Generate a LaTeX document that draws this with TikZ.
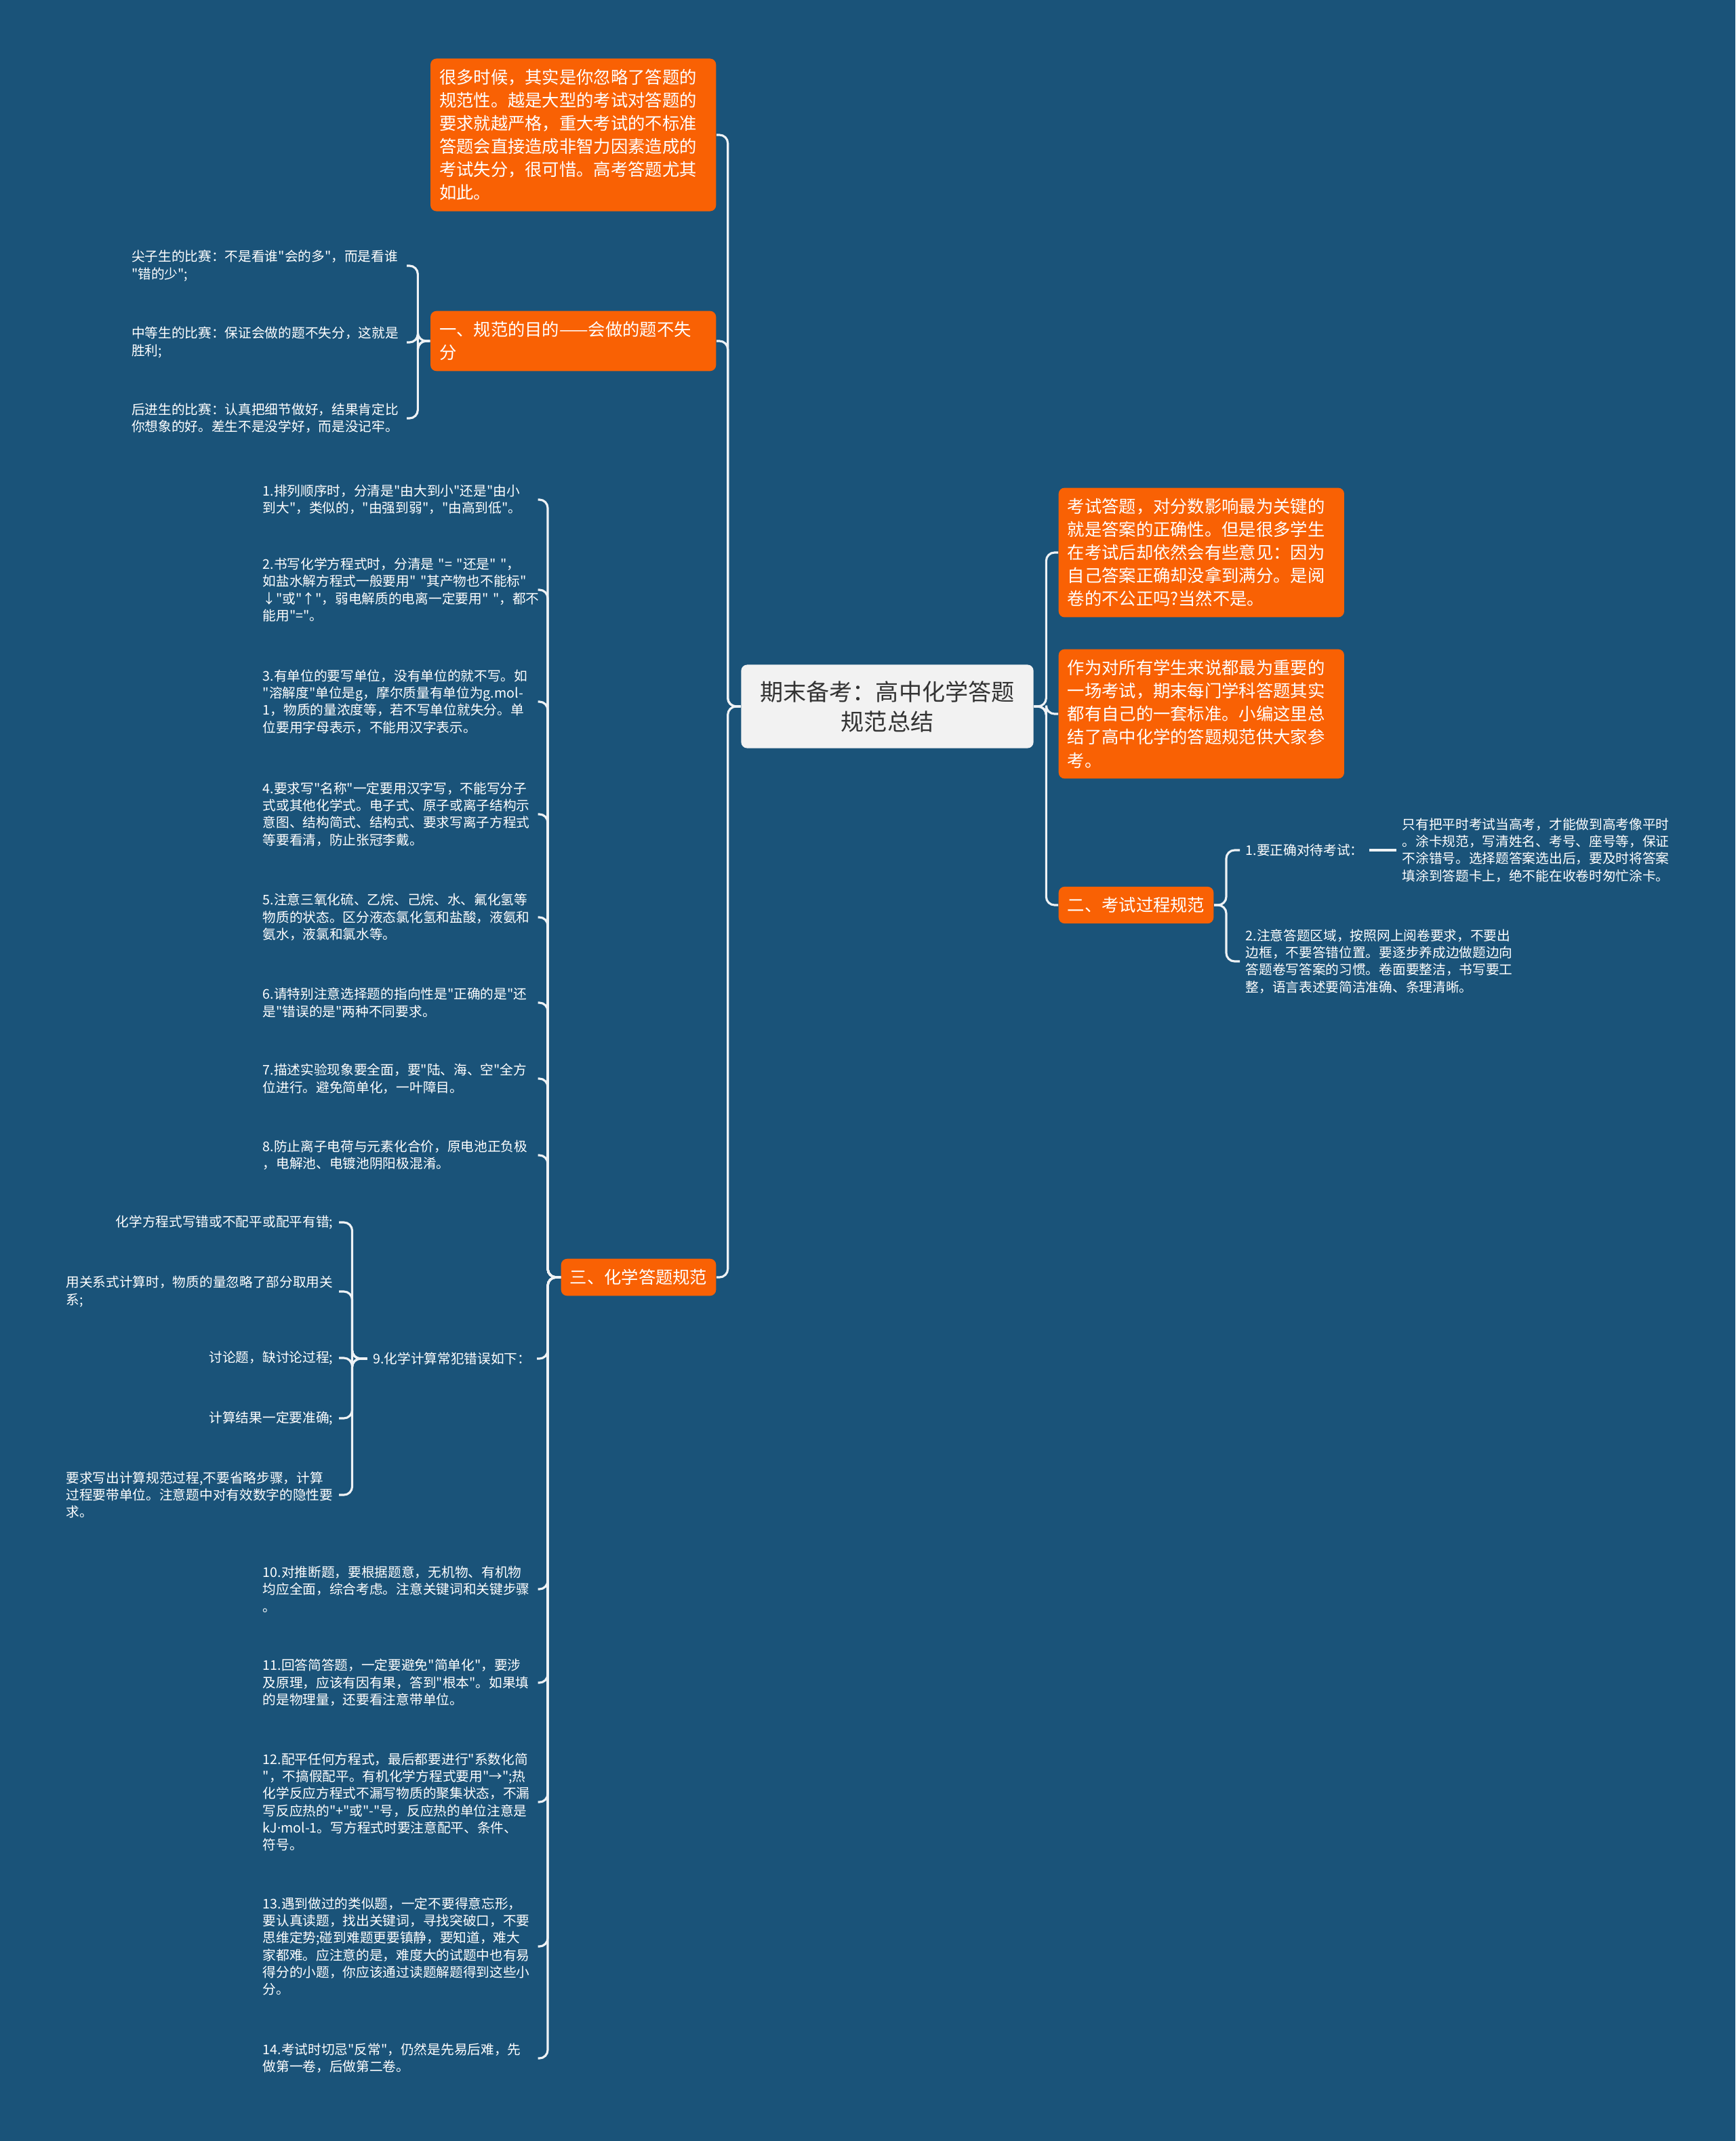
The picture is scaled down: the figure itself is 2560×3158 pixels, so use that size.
\documentclass[tikz,border=0pt]{standalone}
\usepackage{fontspec}
\newfontfamily\cjkfont{Noto Sans CJK SC}
\newfontfamily\latinfont{Noto Sans}
\definecolor{bgblue}{HTML}{1A5379}
\definecolor{boxorange}{HTML}{F96104}
\definecolor{rootgray}{HTML}{F2F2F2}
\definecolor{linkwhite}{HTML}{EEF2F5}
\hyphenpenalty=10000
\exhyphenpenalty=10000
\newcommand\pw[1]{{\addfontfeature{CharacterWidth=Proportional}#1}}
\begin{document}
\begin{tikzpicture}[x=0.01cm,y=-0.01cm,
  link/.style={draw=linkwhite,line width=0.9pt,rounded corners=3.5pt},
  leaf/.style={text=white,font=\cjkfont\fontsize{5.6}{7.2}\selectfont,align=left,inner xsep=0.08cm,inner ysep=0.04cm},
  item/.style={leaf,text width=3.97cm},
  topic/.style={fill=boxorange,text=white,rounded corners=2.5pt,font=\cjkfont\fontsize{7.2}{9.7}\selectfont,align=left,inner xsep=0.13cm,inner ysep=0.155cm},
  wide/.style={topic,text width=3.95cm},
  root/.style={fill=rootgray,text=black!80,rounded corners=2.5pt,font=\cjkfont\fontsize{9.7}{12.5}\selectfont,align=center,minimum width=4.31cm,minimum height=1.23cm}]
  \fill[bgblue] (0,0) rectangle (2560,3158);

  \node[root] (root) at (1309,1042) {期末备考：高中化学答题\\规范总结};

  \node[wide,anchor=east] (bA) at (1057,199) {很多时候，其实是你忽略了答题的\\规范性。越是大型的考试对答题的\\要求就越严格，重大考试的不标准\\答题会直接造成非智力因素造成的\\考试失分，很可惜。高考答题尤其\\如此。};
  \node[wide,anchor=east] (bB) at (1057,503) {一、规范的目的——会做的题不失\\分};
  \node[topic,anchor=east] (b3) at (1057,1884) {三、化学答题规范};
  \node[wide,anchor=west] (bC) at (1561,815) {考试答题，对分数影响最为关键的\\就是答案的正确性。但是很多学生\\在考试后却依然会有些意见：因为\\自己答案正确却没拿到满分。是阅\\卷的不公正吗?当然不是。};
  \node[wide,anchor=west] (bD) at (1561,1053) {作为对所有学生来说都最为重要的\\一场考试，期末每门学科答题其实\\都有自己的一套标准。小编这里总\\结了高中化学的答题规范供大家参\\考。};
  \node[topic,anchor=west] (bE) at (1561,1335) {二、考试过程规范};

  \node[item,anchor=east] (l1) at (600,392) {尖子生的比赛：不是看谁"会的多"，而是看谁\\"错的少";};
  \node[item,anchor=east] (l2) at (600,505) {中等生的比赛：保证会做的题不失分，这就是\\胜利;};
  \node[item,anchor=east] (l3) at (600,617) {后进生的比赛：认真把细节做好，结果肯定比\\你想象的好。差生不是没学好，而是没记牢。};

  \node[item,anchor=west] (i1) at (379,737) {1.排列顺序时，分清是"由大到小"还是"由小\\到大"，类似的，"由强到弱"，"由高到低"。};
  \node[item,anchor=west] (i2) at (379,870) {2.书写化学方程式时，分清是~"=~"还是"~"，\\如盐水解方程式一般要用"~"其产物也不能标"\\\pw{↓}"或"\pw{↑}"，弱电解质的电离一定要用"~"，都不\\能用"="。};
  \node[item,anchor=west] (i3) at (379,1035) {3.有单位的要写单位，没有单位的就不写。如\\"溶解度"单位是g，摩尔质量有单位为g.mol-\\1，物质的量浓度等，若不写单位就失分。单\\位要用字母表示，不能用汉字表示。};
  \node[item,anchor=west] (i4) at (379,1201) {4.要求写"名称"一定要用汉字写，不能写分子\\式或其他化学式。电子式、原子或离子结构示\\意图、结构简式、结构式、要求写离子方程式\\等要看清，防止张冠李戴。};
  \node[item,anchor=west] (i5) at (379,1353) {5.注意三氧化硫、乙烷、己烷、水、氟化氢等\\物质的状态。区分液态氯化氢和盐酸，液氨和\\氨水，液氯和氯水等。};
  \node[item,anchor=west] (i6) at (379,1479) {6.请特别注意选择题的指向性是"正确的是"还\\是"错误的是"两种不同要求。};
  \node[item,anchor=west] (i7) at (379,1591) {7.描述实验现象要全面，要"陆、海、空"全方\\位进行。避免简单化，一叶障目。};
  \node[item,anchor=west] (i8) at (379,1704) {8.防止离子电荷与元素化合价，原电池正负极\\，电解池、电镀池阴阳极混淆。};
  \node[leaf,anchor=east] (i9) at (792,2004) {9.化学计算常犯错误如下：};
  \node[item,anchor=west] (i10) at (379,2344) {10.对推断题，要根据题意，无机物、有机物\\均应全面，综合考虑。注意关键词和关键步骤\\。};
  \node[item,anchor=west] (i11) at (379,2482) {11.回答简答题，一定要避免"简单化"，要涉\\及原理，应该有因有果，答到"根本"。如果填\\的是物理量，还要看注意带单位。};
  \node[item,anchor=west] (i12) at (379,2658) {12.配平任何方程式，最后都要进行"系数化简\\"，不搞假配平。有机化学方程式要用"\pw{→}";热\\化学反应方程式不漏写物质的聚集状态，不漏\\写反应热的"+"或"-"号，反应热的单位注意是\\kJ{\latinfont ·}mol-1。写方程式时要注意配平、条件、\\符号。};
  \node[item,anchor=west] (i13) at (379,2871) {13.遇到做过的类似题，一定不要得意忘形，\\要认真读题，找出关键词，寻找突破口，不要\\思维定势;碰到难题更要镇静，要知道，难大\\家都难。应注意的是，难度大的试题中也有易\\得分的小题，你应该通过读题解题得到这些小\\分。};
  \node[item,anchor=west] (i14) at (379,3036) {14.考试时切忌"反常"，仍然是先易后难，先\\做第一卷，后做第二卷。};

  \node[leaf,anchor=east] (c1) at (500,1803) {化学方程式写错或不配平或配平有错;};
  \node[leaf,anchor=east] (c2) at (500,1905) {用关系式计算时，物质的量忽略了部分取用关\\系;};
  \node[leaf,anchor=east] (c3) at (500,2003) {讨论题，缺讨论过程;};
  \node[leaf,anchor=east] (c4) at (500,2092) {计算结果一定要准确;};
  \node[leaf,anchor=east] (c5) at (500,2205) {要求写出计算规范过程,不要省略步骤，计算\\过程要带单位。注意题中对有效数字的隐性要\\求。};

  \node[leaf,anchor=west] (e1) at (1829,1254) {1.要正确对待考试：};
  \node[item,anchor=west] (e1a) at (2060,1254) {只有把平时考试当高考，才能做到高考像平时\\。涂卡规范，写清姓名、考号、座号等，保证\\不涂错号。选择题答案选出后，要及时将答案\\填涂到答题卡上，绝不能在收卷时匆忙涂卡。};
  \node[item,anchor=west] (e2) at (1829,1418) {2.注意答题区域，按照网上阅卷要求，不要出\\边框，不要答错位置。要逐步养成边做题边向\\答题卷写答案的习惯。卷面要整洁，书写要工\\整，语言表述要简洁准确、条理清晰。};

  \foreach \n in {bA,bB,b3}
    \draw[link] (root.west) -- ++(-19,0) |- (\n.east);
  \foreach \n in {bC,bD,bE}
    \draw[link] (root.east) -- ++(18,0) |- (\n.west);
  \foreach \k in {1,2,3}
    \draw[link] (bB.west) -- ++(-18,0) |- (l\k.east);
  \foreach \k in {1,...,14}
    \draw[link] (b3.west) -- ++(-19,0) |- (i\k.east);
  \foreach \k in {1,...,5}
    \draw[link] (i9.west) -- ++(-22,0) |- (c\k.east);
  \foreach \n in {e1,e2}
    \draw[link] (bE.east) -- ++(18,0) |- (\n.west);
  \draw[link] (e1.east) -- (e1a.west);
\end{tikzpicture}
\end{document}
